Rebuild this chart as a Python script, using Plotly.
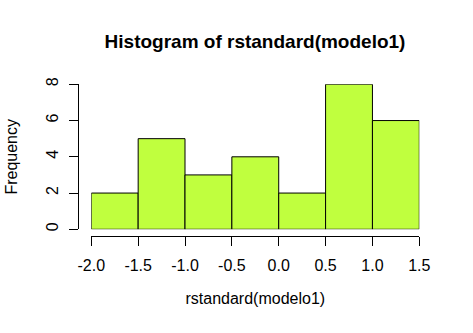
import plotly.graph_objects as go

# Data
bin_edges = [-2.0, -1.5, -1.0, -0.5, 0.0, 0.5, 1.0, 1.5]
counts = [2, 5, 3, 4, 2, 8, 6]
x_ticks = [-2.0, -1.5, -1.0, -0.5, 0.0, 0.5, 1.0, 1.5]
x_tick_labels = ["-2.0", "-1.5", "-1.0", "-0.5", "0.0", "0.5", "1.0", "1.5"]
y_ticks = [0, 2, 4, 6, 8]

centers = [(a + b) / 2 for a, b in zip(bin_edges[:-1], bin_edges[1:])]
widths = [b - a for a, b in zip(bin_edges[:-1], bin_edges[1:])]

W, H = 473, 333
FONT = "Liberation Sans, Arial, sans-serif"

fig = go.Figure(go.Bar(
    x=centers, y=counts, width=widths,
    marker=dict(color="#C0FF3E", line=dict(color="black", width=1)),
    hoverinfo="x+y",
))

fig.update_layout(
    width=W, height=H,
    margin=dict(l=0, r=0, t=0, b=0),
    paper_bgcolor="white", plot_bgcolor="white",
    font=dict(family=FONT, size=16, color="black"),
    showlegend=False,
    title=dict(text="<b>Histogram of rstandard(modelo1)</b>",
               x=255 / W, y=1 - 41 / H, xanchor="center", yanchor="middle",
               font=dict(family=FONT, size=19, color="black")),
    xaxis=dict(
        domain=[91.3 / W, 419.3 / W],
        range=[bin_edges[0], bin_edges[-1]],
        anchor="free", position=(H - 235.5) / H,
        showgrid=False, zeroline=False,
        showline=True, linecolor="black", linewidth=1,
        ticks="outside", ticklen=9, tickcolor="black", tickwidth=1,
        tickvals=x_ticks, ticktext=x_tick_labels,
        ticklabelstandoff=6,
        tickfont=dict(size=16),
        title=dict(text="rstandard(modelo1)", standoff=20, font=dict(size=16)),
        automargin=False,
    ),
    yaxis=dict(
        domain=[(H - 229.3) / H, (H - 84.3) / H],
        range=[0, 8],
        anchor="free", position=78 / W,
        showgrid=False, zeroline=False,
        showline=True, linecolor="black", linewidth=1,
        ticks="outside", ticklen=9, tickcolor="black", tickwidth=1,
        tickvals=y_ticks, tickangle=-90,
        ticklabelstandoff=5,
        tickfont=dict(size=16),
        title=dict(text="Frequency", standoff=20, font=dict(size=16)),
        automargin=False,
    ),
)

fig.write_html("out.html")
